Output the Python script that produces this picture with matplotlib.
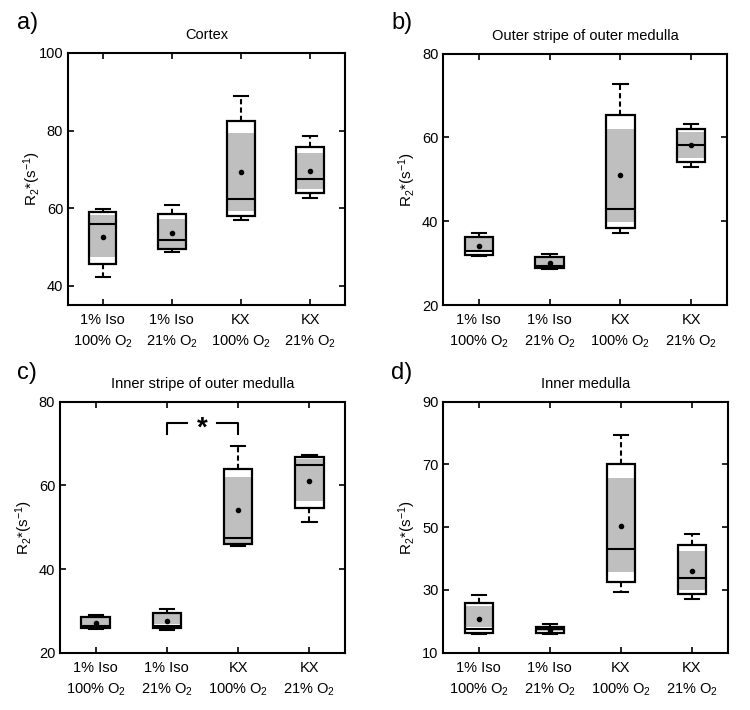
import numpy as np
import matplotlib
matplotlib.use("Agg")
import matplotlib.pyplot as plt

plt.rcParams["font.family"] = ["Liberation Sans", "DejaVu Sans"]
plt.rcParams["mathtext.default"] = "regular"

# ---------- DATA ----------
groups = ["1% Iso\n100% O$_2$", "1% Iso\n21% O$_2$", "KX\n100% O$_2$", "KX\n21% O$_2$"]
positions = [1, 2, 3, 4]

# a) Cortex
a_whislo = [42.1, 48.6, 56.8, 62.5]
a_q1 = [45.6, 49.4, 58.0, 63.8]
a_med = [56.0, 51.7, 62.3, 67.6]
a_q3 = [58.9, 58.6, 82.4, 75.8]
a_whishi = [59.7, 60.9, 88.9, 78.5]
a_mean = [52.6, 53.7, 69.4, 69.6]
a_sd_lo = [47.3, 49.8, 59.3, 64.8]
a_sd_hi = [58.2, 57.3, 79.4, 74.2]

# b) Outer stripe of outer medulla
b_whislo = [31.7, 28.6, 37.2, 53.0]
b_q1 = [31.9, 28.9, 38.4, 54.2]
b_med = [33.0, 29.3, 43.0, 58.1]
b_q3 = [36.3, 31.5, 65.3, 62.1]
b_whishi = [37.2, 32.1, 72.7, 63.2]
b_mean = [34.2, 30.1, 51.0, 58.1]
b_sd_lo = [33.2, 29.4, 39.9, 55.0]
b_sd_hi = [35.9, 31.25, 62.0, 61.2]

# c) Inner stripe of outer medulla
c_whislo = [25.65, 25.4, 45.5, 51.3]
c_q1 = [25.8, 25.8, 45.9, 54.7]
c_med = [26.4, 26.5, 47.5, 64.9]
c_q3 = [28.6, 29.55, 64.0, 66.7]
c_whishi = [29.1, 30.5, 69.4, 67.2]
c_mean = [27.2, 27.65, 54.1, 61.1]
c_sd_lo = [26.6, 26.9, 46.3, 56.2]
c_sd_hi = [28.2, 29.2, 61.9, 66.2]

# d) Inner medulla
d_whislo = [16.05, 16.1, 29.2, 27.1]
d_q1 = [16.4, 16.4, 32.6, 28.7]
d_med = [17.4, 17.4, 43.0, 33.9]
d_q3 = [25.7, 18.3, 70.3, 44.3]
d_whishi = [28.3, 19.0, 79.4, 47.8]
d_mean = [20.7, 17.3, 50.5, 36.1]
d_sd_lo = [18.3, 16.8, 35.6, 30.0]
d_sd_hi = [25.0, 18.0, 65.6, 42.4]

panels = [
    ("a)", "Cortex", (a_whislo, a_q1, a_med, a_q3, a_whishi, a_mean, a_sd_lo, a_sd_hi), (35, 100), [40, 60, 80, 100]),
    ("b)", "Outer stripe of outer medulla", (b_whislo, b_q1, b_med, b_q3, b_whishi, b_mean, b_sd_lo, b_sd_hi), (20, 80), [20, 40, 60, 80]),
    ("c)", "Inner stripe of outer medulla", (c_whislo, c_q1, c_med, c_q3, c_whishi, c_mean, c_sd_lo, c_sd_hi), (20, 80), [20, 40, 60, 80]),
    ("d)", "Inner medulla", (d_whislo, d_q1, d_med, d_q3, d_whishi, d_mean, d_sd_lo, d_sd_hi), (10, 90), [10, 30, 50, 70, 90]),
]

# axes rectangles in figure fraction (left, bottom, width, height)
rects = [
    [0.0907, 0.5704, 0.369, 0.355],
    [0.591, 0.5704, 0.378, 0.354],
    [0.080, 0.0807, 0.380, 0.3535],
    [0.591, 0.0807, 0.379, 0.3535],
]
label_xy = [(0.022, 0.967), (0.522, 0.967), (0.022, 0.475), (0.522, 0.475)]

fig = plt.figure(figsize=(7.5, 7.1), dpi=100)

for (tag, title, d, ylim, yticks), rect, lxy in zip(panels, rects, label_xy):
    whislo, q1, med, q3, whishi, mean, sd_lo, sd_hi = d
    ax = fig.add_axes(rect)

    # grey band behind each box
    ax.bar(positions, np.array(sd_hi) - np.array(sd_lo), bottom=sd_lo, width=0.4,
           color="#bfbfbf", zorder=2)

    stats = [dict(whislo=whislo[i], q1=q1[i], med=med[i], q3=q3[i], whishi=whishi[i],
                  mean=mean[i], fliers=[]) for i in range(4)]
    ax.bxp(stats, positions=positions, widths=0.4, capwidths=0.2, showmeans=True,
           showfliers=False, patch_artist=True, manage_ticks=False, zorder=3,
           boxprops=dict(facecolor="none", edgecolor="k", linewidth=1.6),
           whiskerprops=dict(color="k", linewidth=1.5, linestyle=(0, (2.5, 1.5))),
           capprops=dict(color="k", linewidth=1.5),
           medianprops=dict(color="k", linewidth=1.5),
           meanprops=dict(marker="o", markerfacecolor="k", markeredgecolor="k", markersize=3))

    ax.set_xlim(0.5, 4.5)
    ax.set_ylim(*ylim)
    ax.set_yticks(yticks)
    ax.set_xticks(positions)
    ax.set_xticklabels(groups, fontsize=10.5)
    for t in ax.get_xticklabels():
        t.set_linespacing(1.55)
    ax.tick_params(axis="y", labelsize=10.5)
    ax.tick_params(direction="in", top=True, right=True, length=4, width=1.2)
    ax.tick_params(axis="x", pad=6)
    for s in ax.spines.values():
        s.set_linewidth(1.5)

    ax.set_title(title, fontsize=10.5, pad=10)
    ax.set_ylabel("R$_2$*(s$^{-1}$)", fontsize=11)
    w_px = rect[2] * 750
    ax.yaxis.set_label_coords(-25 / w_px, 0.5)

    fig.text(lxy[0], lxy[1], tag, fontsize=17, ha="left", va="center")

    if tag == "c)":
        # significance bracket between groups 2 and 3
        ax.plot([2, 2, 2.28], [72.2, 75.0, 75.0], color="k", lw=1.5, clip_on=False)
        ax.plot([2.71, 3, 3], [75.0, 75.0, 72.2], color="k", lw=1.5, clip_on=False)
        ax.text(2.5, 73.6, "*", fontsize=20, ha="center", va="center", fontweight="bold")

fig.savefig("out.png", dpi=100)
